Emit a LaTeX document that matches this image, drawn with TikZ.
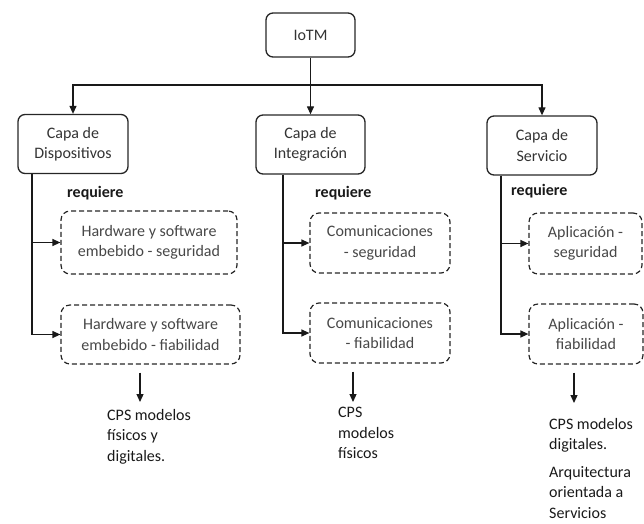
\documentclass[tikz,border=0pt]{standalone}
\usepackage{fontspec}
\setmainfont{Carlito}
\usetikzlibrary{arrows.meta,calc}
\begin{document}
\begin{tikzpicture}[x=1pt,y=-1pt,
  font=\fontsize{16}{20.5}\selectfont,
  solidbox/.style={draw=black!85, line width=1.3pt, rounded corners=7pt, align=center, text=black!80, inner sep=0pt},
  dashbox/.style={draw=black!85, line width=1.2pt, dash pattern=on 5pt off 3pt, rounded corners=9pt, align=center, text=black!72, inner sep=0pt},
  arr/.style={-{Triangle[length=8pt,width=7pt]}, line width=1.2pt, draw=black!90},
  req/.style={font=\fontsize{16}{20}\selectfont\bfseries, anchor=west, inner sep=0pt, text=black!90},
  outtext/.style={anchor=north west, align=left, inner sep=0pt, text=black!90}
]
\useasboundingbox (0,0) rectangle (644,523);

\node[solidbox, minimum width=89pt, minimum height=44pt] (iotm) at (310.5,35) {IoTM};
\node[solidbox, minimum width=110pt, minimum height=59pt] (c1) at (73,144) {Capa de\\Dispositivos};
\node[solidbox, minimum width=109pt, minimum height=59pt] (c2) at (310.5,144.5) {Capa de\\Integración};
\node[solidbox, minimum width=110pt, minimum height=59pt] (c3) at (542,145.5) {Capa de\\Servicio};

\coordinate (hl) at (310.5,85);
\draw[arr] (iotm.south) -- (c2.north);
\draw[arr] (hl) -| (c1.north);
\draw[arr] (hl) -| (c3.north);

\node[dashbox, minimum width=176pt, minimum height=63pt] (d1a) at (149,242.5) {Hardware y software\\embebido - seguridad};
\node[dashbox, minimum width=179pt, minimum height=59pt] (d1b) at (150.5,334.5) {Hardware y software\\embebido - fiabilidad};
\node[dashbox, minimum width=140pt, minimum height=60pt] (d2a) at (380,243) {Comunicaciones\\- seguridad};
\node[dashbox, minimum width=140pt, minimum height=60pt] (d2b) at (380,333) {Comunicaciones\\- fiabilidad};
\node[dashbox, minimum width=113pt, minimum height=61pt] (d3a) at (585.5,243.5) {Aplicación -\\seguridad};
\node[dashbox, minimum width=114pt, minimum height=60pt] (d3b) at (586,334) {Aplicación -\\fiabilidad};

\node[req] (r1) at (67,193) {requiere};
\node[req] (r2) at (315,193) {requiere};
\node[req] (r3) at (511,191) {requiere};

\coordinate (v1) at (32,174);
\coordinate (v2) at (283,174);
\coordinate (v3) at (501,175);
\draw[arr] (c1.south -| v1) |- (d1a.west);
\draw[arr] (c1.south -| v1) |- (d1b.west);
\draw[arr] (c2.south -| v2) |- (d2a.west);
\draw[arr] (c2.south -| v2) |- (d2b.west);
\draw[arr] (c3.south -| v3) |- (d3a.west);
\draw[arr] (c3.south -| v3) |- (d3b.west);

\node[outtext] (o1) at (107,409) {CPS modelos\\físicos y\\digitales.};
\node[outtext] (o2) at (338,407) {CPS\\modelos\\físicos};
\node[outtext] (o3) at (549,418) {CPS modelos\\digitales.\\[7pt]Arquitectura\\orientada a\\Servicios};

\draw[arr] ($(d1b.south)+(-10.5,8)$) -- ($(o1.north west)+(33,-7)$);
\draw[arr] ($(d2b.south)+(-27,8)$) -- ($(o2.north west)+(15,-5)$);
\draw[arr] ($(d3b.south)+(-12,8)$) -- ($(o3.north west)+(25,-15)$);
\end{tikzpicture}
\end{document}
